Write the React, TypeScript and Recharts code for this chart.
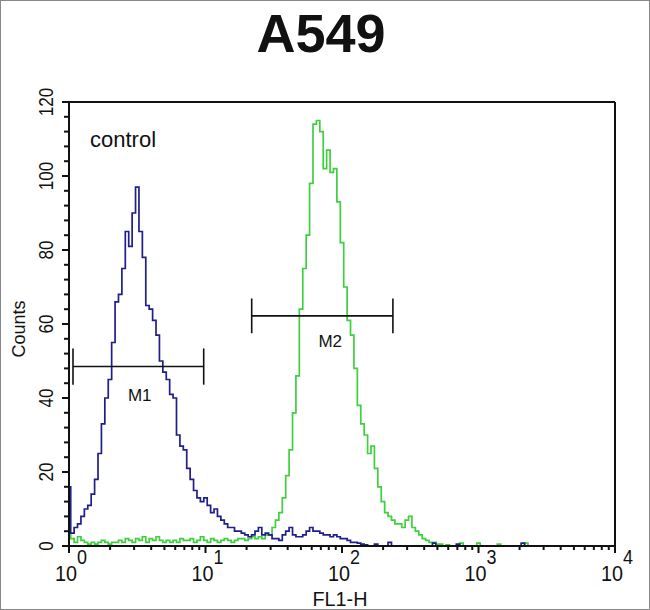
import {
  LineChart,
  Line,
  XAxis,
  YAxis,
  ReferenceLine,
  ReferenceDot,
} from "recharts";

// counts per channel, 40 channels per decade, channel 0 = 10^0
const controlCounts = [
  16, 3.5, 5, 6, 8, 10, 11, 14, 18, 25,
  33, 40, 45, 55, 66, 68, 75, 85, 81, 90,
  97, 85, 78, 65, 64, 61, 57, 50, 47, 45,
  41, 40, 30, 27, 26, 21, 18, 15, 13, 12,
  13, 11, 9, 10, 8, 7, 6, 5, 5, 4,
  4, 3.5, 3, 2.5, 3, 4, 5, 3, 3.5, 3,
  2, 2, 1.5, 3, 4, 5, 3, 2.5, 2.5, 3,
  4, 5, 4, 4, 3.5, 3, 3, 2.5, 3, 2.5,
  2, 2, 1.5, 1, 1, 0.8, 0.5, 0.3, 0, 0,
  0.5, 0, 0, 0, 1, 0, 0, 0, 0, 0,
  0, 0, 0, 0, 0, 0, 0, 0.8, 0, 0,
  0, 0, 0, 0, 0.5, 0, 0, 0, 0, 0,
  0, 0, 0, 0, 0, 0, 0, 0, 0, 0,
  0, 0, 0, 0.8, 0, 0, 0, 0, 0, 0,
  0, 0, 0, 0, 0, 0, 0, 0, 0, 0,
  0, 0, 0, 0, 0, 0, 0, 0, 0, 0,
  0,
];

const sampleCounts = [
  3, 2, 1, 2.5, 1.5, 1, 0.5, 1, 0.5, 1,
  1.5, 1, 0.5, 1, 1, 1.5, 1, 2, 1.5, 1,
  2, 1.5, 2.5, 1, 2, 1.5, 2.5, 1.5, 1, 1.5,
  1, 1.5, 1, 2, 1.5, 1.5, 2, 1, 1.5, 2.5,
  1.5, 1, 2, 1.5, 1, 1.5, 2, 1.5, 1, 1.5,
  2, 2, 1.5, 2, 2.5, 2, 2.5, 2, 3, 3,
  5, 7, 9, 13, 19, 26, 36, 46, 64, 75,
  84, 98, 114, 115, 112, 102, 107, 101, 102, 93,
  82, 70, 61, 57, 48, 38, 33, 30, 25, 27,
  21, 16, 12, 9, 8, 7, 6, 6, 5, 7,
  8, 5, 4, 3, 2, 1.5, 1, 1, 0.5, 0.5,
  0, 0.3, 0, 0, 0, 0.8, 0, 0, 0, 0,
  0.8, 0, 0, 0, 0, 0, 0.5, 0, 0, 0,
  0, 0, 0, 0, 0.8, 0, 0, 0, 0, 0,
  0, 0, 0, 0, 0, 0, 0, 0, 0, 0,
  0, 0, 0, 0, 0, 0, 0, 0, 0, 0,
  0,
];

const channelsPerDecade = 40;

const xMajorTicks = [1, 10, 100, 1000, 10000];
const xExponents = ["0", "1", "2", "3", "4"];
const xMinorSteps = [2, 3, 4, 5, 6, 7, 8, 9];

const yTicks = [
  0, 4, 8, 12, 16, 20, 24, 28, 32, 36, 40, 44, 48, 52, 56, 60,
  64, 68, 72, 76, 80, 84, 88, 92, 96, 100, 104, 108, 112, 116, 120,
];

// marker gates (FL1-H range, count level, bar half-height, label position)
const m1Gate = { from: 1.07, to: 9.7, y: 48.5, half: 4.9, labelX: 3.3, labelY: 40.8 };
const m2Gate = { from: 21.8, to: 236, y: 62.2, half: 4.7, labelX: 82, labelY: 55.5 };

const data = controlCounts.map((c, ch) => ({
  fl1: Number((10 ** (ch / channelsPerDecade)).toPrecision(6)),
  control: c,
  sample: sampleCounts[ch],
}));

const xTicks = [
  ...xMajorTicks,
  ...xMajorTicks.slice(0, 4).flatMap((d) => xMinorSteps.map((s) => d * s)),
];

const FONT = "'Liberation Sans', Arial, Helvetica, sans-serif";
const INK = "#111";

function XTick({ x, y, payload }: any) {
  const idx = xMajorTicks.indexOf(payload.value);
  if (idx < 0) {
    return <line x1={x} y1={y} x2={x} y2={y + 4} stroke={INK} strokeWidth={2} />;
  }
  return (
    <g>
      <line x1={x} y1={y} x2={x} y2={y + 7} stroke={INK} strokeWidth={2} />
      <text
        x={x + 8}
        y={y + 35}
        textAnchor="end"
        fontSize={22}
        textLength={22}
        lengthAdjust="spacingAndGlyphs"
        fontFamily={FONT}
        fill={INK}
      >
        10
      </text>
      <text
        x={x + 8}
        y={y + 18}
        textAnchor="start"
        fontSize={21}
        textLength={10}
        lengthAdjust="spacingAndGlyphs"
        fontFamily={FONT}
        fill={INK}
      >
        {xExponents[idx]}
      </text>
    </g>
  );
}

function YTick({ x, y, payload }: any) {
  const v = payload.value;
  const major = v % 20 === 0;
  const tx = x - 16;
  return (
    <g>
      <line x1={x} y1={y} x2={x - (major ? 7 : 5)} y2={y} stroke={INK} strokeWidth={2} />
      {major && (
        <text
          x={tx}
          y={y}
          transform={`rotate(-90 ${tx} ${y})`}
          textAnchor="middle"
          fontSize={20}
          textLength={String(v).length * 9.5}
          lengthAdjust="spacingAndGlyphs"
          fontFamily={FONT}
          fill={INK}
        >
          {v}
        </text>
      )}
    </g>
  );
}

function Gate({ g, name }: { g: typeof m1Gate; name: string }) {
  return (
    <>
      <ReferenceLine
        segment={[{ x: g.from, y: g.y }, { x: g.to, y: g.y }]}
        stroke={INK}
        strokeWidth={1.6}
      />
      <ReferenceLine
        segment={[{ x: g.from, y: g.y - g.half }, { x: g.from, y: g.y + g.half }]}
        stroke={INK}
        strokeWidth={1.6}
      />
      <ReferenceLine
        segment={[{ x: g.to, y: g.y - g.half }, { x: g.to, y: g.y + g.half }]}
        stroke={INK}
        strokeWidth={1.6}
      />
      <ReferenceDot
        x={g.labelX}
        y={g.labelY}
        r={0}
        stroke="none"
        fill="none"
        label={{ value: name, position: "center", fontSize: 17, fill: INK, fontFamily: FONT }}
      />
    </>
  );
}

export default function App() {
  return (
    <div style={{ position: "absolute", left: 0, top: 0, width: 650, height: 610, background: "#fff" }}>
      <LineChart
        width={650}
        height={610}
        data={data}
        margin={{ top: 102, right: 35, bottom: 24, left: 8 }}
      >
        <XAxis
          dataKey="fl1"
          type="number"
          scale="log"
          domain={[1, 10000]}
          allowDataOverflow
          ticks={xTicks}
          interval={0}
          tick={<XTick />}
          tickLine={false}
          tickSize={0}
          tickMargin={0}
          axisLine={{ stroke: INK, strokeWidth: 2 }}
          height={40}
        />
        <YAxis
          type="number"
          domain={[0, 120]}
          ticks={yTicks}
          interval={0}
          tick={<YTick />}
          tickLine={false}
          tickSize={0}
          tickMargin={0}
          axisLine={{ stroke: INK, strokeWidth: 2 }}
          width={61}
        />
        <ReferenceLine y={120} stroke={INK} strokeWidth={2} />
        <ReferenceLine x={10000} stroke={INK} strokeWidth={2} />
        <Line
          dataKey="sample"
          type="step"
          stroke="#3fcf3f"
          strokeWidth={1.7}
          dot={false}
          isAnimationActive={false}
        />
        <Line
          dataKey="control"
          type="step"
          stroke="#1f1f8a"
          strokeWidth={1.7}
          dot={false}
          isAnimationActive={false}
        />
        <Gate g={m1Gate} name="M1" />
        <Gate g={m2Gate} name="M2" />
        <text x={321} y={52} textAnchor="middle" fontSize={54} fontWeight="bold" fontFamily={FONT} fill={INK}>
          A549
        </text>
        <text x={90} y={147} fontSize={22} fontFamily={FONT} fill={INK}>
          control
        </text>
        <text
          x={340}
          y={606}
          textAnchor="middle"
          fontSize={20}
          textLength={55}
          lengthAdjust="spacingAndGlyphs"
          fontFamily={FONT}
          fill={INK}
        >
          FL1-H
        </text>
        <text x={25} y={329} transform="rotate(-90 25 329)" textAnchor="middle" fontSize={18} fontFamily={FONT} fill={INK}>
          Counts
        </text>
      </LineChart>
      <div
        style={{
          position: "absolute",
          inset: 0,
          border: "1px solid #888",
          pointerEvents: "none",
        }}
      />
    </div>
  );
}
